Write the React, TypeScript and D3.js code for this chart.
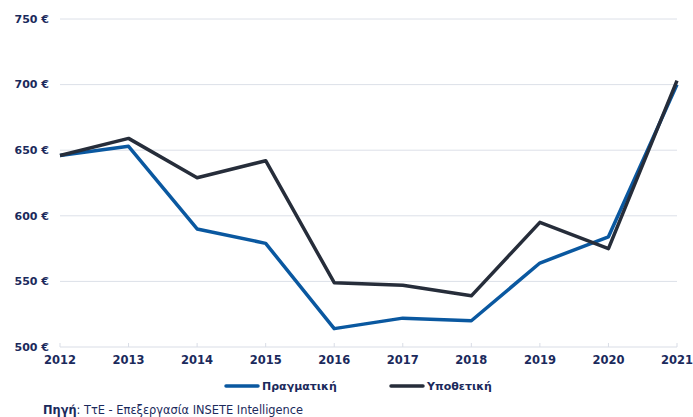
import * as React from 'react';
import * as d3 from 'd3';

const years = ['2012', '2013', '2014', '2015', '2016', '2017', '2018', '2019', '2020', '2021'];
const actual = [646, 653, 590, 579, 514, 522, 520, 564, 584, 700];
const hypothetical = [646, 659, 629, 642, 549, 547, 539, 595, 575, 703];
const yTicks = [500, 550, 600, 650, 700, 750];

const seriesNames = ['Πραγματική', 'Υποθετική'];
const seriesColors = ['#0a58a0', '#262d3a'];

const dimensions = { width: 693, height: 417 };
const margin = { top: 19, left: 60, right: 16, bottom: 70 };

const textColor = '#1b2a5c';
const font = '"DejaVu Sans", Verdana, sans-serif';

const App: React.FC = () => {
  const x = d3
    .scalePoint<string>()
    .domain(years)
    .range([margin.left, dimensions.width - margin.right]);
  const y = d3
    .scaleLinear()
    .domain([500, 750])
    .range([dimensions.height - margin.bottom, margin.top]);

  const line = d3
    .line<number>()
    .x((_, i) => x(years[i]) as number)
    .y((d) => y(d));

  const series = [actual, hypothetical];
  const legendX = [226, 391];

  return (
    <svg
      width={dimensions.width}
      height={dimensions.height}
      viewBox={`0 0 ${dimensions.width} ${dimensions.height}`}
      style={{ position: 'absolute', left: 0, top: 0, background: '#fff' }}
    >
      {/* grid + y labels */}
      {yTicks.map((t) => (
        <g key={t}>
          {t !== 500 && (
            <line
              x1={margin.left}
              x2={dimensions.width - margin.right}
              y1={y(t)}
              y2={y(t)}
              stroke="#dce0e8"
              strokeWidth={1}
            />
          )}
          <text
            x={49}
            y={y(t)}
            dy="0.35em"
            textAnchor="end"
            fontFamily={font}
            fontWeight="bold"
            fontSize={11}
            fill={textColor}
          >
            {`${t} €`}
          </text>
        </g>
      ))}

      {/* x axis */}
      <line
        x1={margin.left}
        x2={dimensions.width - margin.right}
        y1={y(500)}
        y2={y(500)}
        stroke="#d9dde6"
        strokeWidth={1}
      />
      {years.map((yr) => (
        <g key={yr}>
          <line
            x1={x(yr)}
            x2={x(yr)}
            y1={y(500)}
            y2={y(500) - 4}
            stroke="#d9dde6"
          />
          <text
            x={x(yr)}
            y={y(500) + 17}
            textAnchor="middle"
            fontFamily={font}
            fontWeight="bold"
            fontSize={11.5}
            fill={textColor}
          >
            {yr}
          </text>
        </g>
      ))}

      {/* lines */}
      {series.map((s, i) => (
        <path
          key={seriesNames[i]}
          d={line(s) ?? ''}
          fill="none"
          stroke={seriesColors[i]}
          strokeWidth={3.5}
          strokeLinejoin="round"
        />
      ))}

      {/* legend */}
      {seriesNames.map((name, i) => (
        <g key={name} transform={`translate(${legendX[i]}, 386)`}>
          <line x1={0} x2={32} y1={0} y2={0} stroke={seriesColors[i]} strokeWidth={3.5} strokeLinecap="round" />
          <text
            x={36}
            y={0}
            dy="0.35em"
            fontFamily={font}
            fontWeight="bold"
            fontSize={11}
            fill={textColor}
          >
            {name}
          </text>
        </g>
      ))}

      {/* source */}
      <text x={43} y={414} fontFamily={font} fontSize={11.4} fill={textColor}>
        <tspan fontWeight="bold">Πηγή</tspan>
        <tspan>: ΤτΕ - Επεξεργασία INSETE Intelligence</tspan>
      </text>
    </svg>
  );
};

export default App;
